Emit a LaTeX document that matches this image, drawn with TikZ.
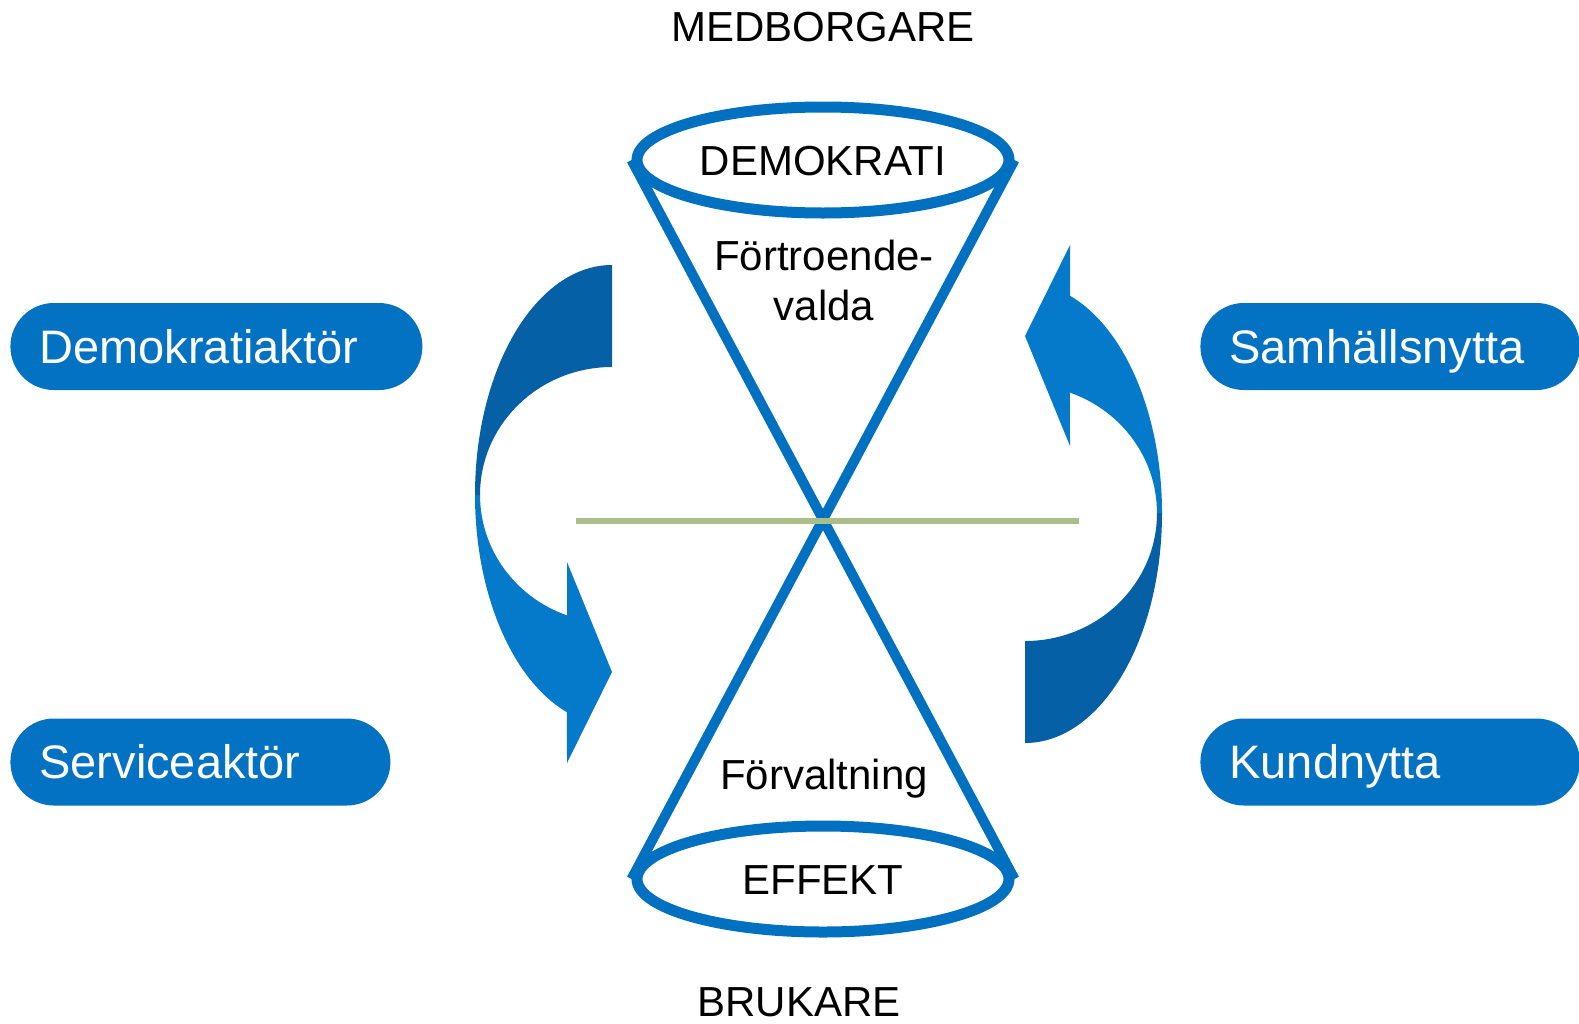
\documentclass[tikz,border=0pt]{standalone}
\usepackage{fontspec}
\setmainfont{Liberation Sans}
\usetikzlibrary{shapes.geometric}

\definecolor{ringblue}{RGB}{0,112,192}
\definecolor{pillblue}{RGB}{3,114,194}
\definecolor{arrowdark}{RGB}{5,96,166}
\definecolor{arrowlight}{RGB}{6,122,202}
\definecolor{linegreen}{RGB}{170,190,138}

\tikzset{
  ring/.style={draw=ringblue, line width=5.5pt, ellipse, fill=white, inner sep=0pt,
    minimum width=186pt, minimum height=53pt,
    font=\fontsize{21}{25}\selectfont, text height=15pt, text depth=0pt},
  plaintext/.style={font=\fontsize{21}{25}\selectfont, inner sep=0pt, anchor=base},
  pill/.style={fill=pillblue, rounded corners=21.75pt, minimum height=43.5pt,
    inner ysep=0pt, inner xsep=14.5pt, anchor=west, align=left, text=white,
    font=\fontsize{23.5}{28}\selectfont, text height=16.8pt, text depth=0pt},
  cone/.style={draw=ringblue, line width=5pt},
}

\begin{document}
\begin{tikzpicture}[x=0.5pt, y=-0.5pt]
\useasboundingbox (0,0) rectangle (1579,1023);

\foreach \rot in {0,180}{
\begin{scope}[rotate around={\rot:(818.5,504)}]
\fill[arrowlight] (475,495) arc[start angle=180, end angle=109.2, x radius=137, y radius=230]
  -- (567,763) -- (612,672) -- (567,562) -- (567.1,615.4)
  arc[start angle=109.9, end angle=180, x radius=132, y radius=128] -- cycle;
\fill[arrowdark] (612,265) arc[start angle=-90, end angle=-180, x radius=137, y radius=230]
  -- (480,495) arc[start angle=180, end angle=270, x radius=132, y radius=128] -- cycle;
\end{scope}
}

\node[ring] (demo) at (823,160) {DEMOKRATI};
\node[ring] (effekt) at (823,879) {EFFEKT};

\draw[cone] (demo.west) -- (effekt.east);
\draw[cone] (demo.east) -- (effekt.west);

\coordinate (gleft) at (576,521);
\coordinate (gright) at (1079,521);
\draw[linegreen, line width=3pt] (gleft) -- (gright);

\node[plaintext] (medb) at (823,41) {MEDBORGARE};
\node[plaintext] (bruk) at (799,1016) {BRUKARE};
\node[plaintext, align=center] (fval) at (824,320) {Förtroende-\\valda};
\node[plaintext] (forv) at (824,789) {Förvaltning};

\node[pill, text width=177pt] (demakt) at (10,346.5) {Demokratiaktör};
\node[pill, text width=161pt] (servakt) at (10,762) {Serviceaktör};
\node[pill, text width=160.75pt] (samh) at (1200,346.5) {Samhällsnytta};
\node[pill, text width=160.75pt] (kund) at (1200,762) {Kundnytta};

\end{tikzpicture}
\end{document}
